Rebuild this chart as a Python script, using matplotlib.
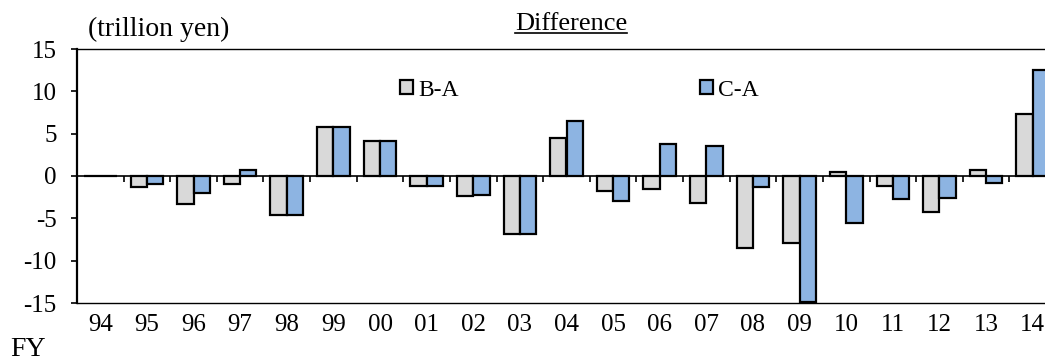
import numpy as np
import matplotlib
matplotlib.use("Agg")
import matplotlib.pyplot as plt
from matplotlib.lines import Line2D

plt.rcParams['font.family'] = ['Liberation Serif', 'DejaVu Serif']
plt.rcParams['axes.unicode_minus'] = False

years = ['94', '95', '96', '97', '98', '99', '00', '01', '02', '03', '04',
         '05', '06', '07', '08', '09', '10', '11', '12', '13', '14']
b_minus_a = [0.0, -1.3, -3.3, -0.9, -4.6, 5.8, 4.1, -1.2, -2.35, -6.9, 4.5,
             -1.8, -1.5, -3.15, -8.5, -7.9, 0.45, -1.15, -4.25, 0.7, 7.35]
c_minus_a = [0.0, -1.0, -2.0, 0.75, -4.6, 5.8, 4.1, -1.15, -2.3, -6.9, 6.5,
             -3.0, 3.8, 3.5, -1.25, -14.9, -5.5, -2.7, -2.6, -0.87, 12.55]

fig = plt.figure(figsize=(10.45, 3.61), dpi=100)
# the plot area runs a little past the right edge of the figure
ax = fig.add_axes([77 / 1045, 58 / 361, 979 / 1045, 254 / 361])

x = np.arange(len(years))
w = 0.35
ax.bar(x - w / 2, b_minus_a, w, color='#D9D9D9', edgecolor='black',
       linewidth=1.6, label='B-A', zorder=3)
ax.bar(x + w / 2, c_minus_a, w, color='#8DB4E2', edgecolor='black',
       linewidth=1.6, label='C-A', zorder=3)

ax.set_xlim(-0.5, len(years) - 0.5)
ax.set_ylim(-15, 15)
ax.set_yticks(np.arange(-15, 16, 5))
ax.set_xticks(x)
ax.set_xticklabels(years)
ax.tick_params(axis='x', length=0, pad=8, labelsize=18)
ax.tick_params(axis='y', direction='out', length=4.5, width=1.2, pad=10,
               labelsize=18)

# zero line with category separators hanging below it
ax.axhline(0, color='black', linewidth=1.2, zorder=2)
ax.vlines(x[:-1] + 0.5, -0.75, 0, color='black', linewidth=1.2, zorder=2)

ax.spines['left'].set_linewidth(1.6)
ax.spines['top'].set_linewidth(1.0)
ax.spines['bottom'].set_linewidth(1.0)
ax.spines['right'].set_visible(False)

ax.legend(loc='center left', bbox_to_anchor=(0.33, 0.838), ncol=2,
          frameon=False, fontsize=17, handlelength=0.55, handleheight=0.55,
          handletextpad=0.22, columnspacing=10.2, borderpad=0,
          borderaxespad=0)

fig.text(88 / 1045, 1 - 36.5 / 361, '(trillion yen)', fontsize=20,
         va='baseline', ha='left')
fig.text(10 / 1045, 1 - 356 / 361, 'FY', fontsize=20, va='baseline',
         ha='left')
title = fig.text(571 / 1045, 1 - 30.5 / 361, 'Difference', fontsize=19,
                 va='baseline', ha='center')

# underline the title
fig.canvas.draw()
bb = title.get_window_extent().transformed(fig.transFigure.inverted())
uy = 1 - 32.5 / 361
fig.add_artist(Line2D([bb.x0, bb.x1], [uy, uy], transform=fig.transFigure,
                      color='black', linewidth=1.2))

fig.savefig('out.png', dpi=100)
